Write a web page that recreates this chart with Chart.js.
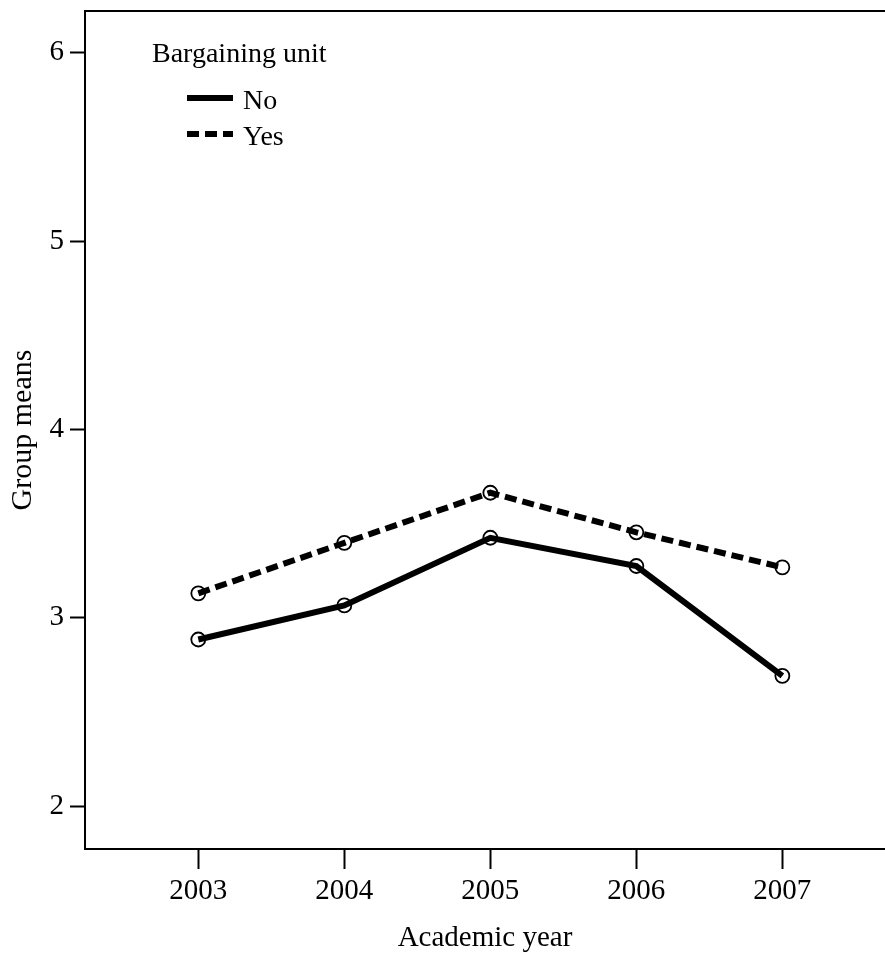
<!DOCTYPE html>
<html>
<head>
<meta charset="utf-8">
<script src="https://cdn.jsdelivr.net/npm/chart.js@4/dist/chart.umd.min.js"></script>
<style>
  html, body { margin: 0; padding: 0; background: #fff; overflow: hidden; }
</style>
</head>
<body>
<canvas id="meansChart" width="885" height="956"></canvas>
<script>
// data
const years = [2003, 2004, 2005, 2006, 2007];
const meansNo  = [2.885, 3.066, 3.425, 3.275, 2.692];
const meansYes = [3.130, 3.398, 3.664, 3.454, 3.268];
const yTicks = [2, 3, 4, 5, 6];
const seriesLabels = ['No', 'Yes'];

const FONT = "'Liberation Serif', 'Times New Roman', serif";
// plot box is cut off at the right edge in the original
const X_MIN = 2002.224, X_MAX = 2007.703;

const toPoints = (vals) => vals.map((v, i) => ({ x: years[i], y: v }));

// kill the label-overflow padding chart.js adds around the plot
const noPad = (s) => { s.paddingTop = 0; s.paddingBottom = 0; s.paddingLeft = 0; s.paddingRight = 0; };

// legend drawn inside the plot area, top-left, like the original
const innerLegend = {
    id: 'innerLegend',
    afterDraw(chart) {
        const { ctx, chartArea } = chart;
        const x0 = chartArea.left;
        const y0 = chartArea.top;
        ctx.save();
        ctx.fillStyle = '#000';
        ctx.font = `28px ${FONT}`;
        ctx.textBaseline = 'alphabetic';
        ctx.fillText('Bargaining unit', x0 + 67, y0 + 51);

        chart.data.datasets.forEach((ds, i) => {
            const ly = y0 + 87 + i * 36;
            ctx.beginPath();
            ctx.lineWidth = 6;
            ctx.strokeStyle = '#000';
            ctx.setLineDash(ds.borderDash || []);
            ctx.moveTo(x0 + 102, ly);
            ctx.lineTo(x0 + 148, ly);
            ctx.stroke();
            ctx.setLineDash([]);
            ctx.fillText(ds.label, x0 + 158, ly + 11);
        });
        ctx.restore();
    }
};

new Chart(document.getElementById('meansChart'), {
    type: 'line',
    data: {
        datasets: [
            {
                label: seriesLabels[0],
                data: toPoints(meansNo),
                borderColor: '#000',
                borderWidth: 6,
                pointRadius: 7,
                pointBorderWidth: 1.8,
                pointBorderColor: '#000',
                pointBackgroundColor: 'rgba(0,0,0,0)',
                tension: 0
            },
            {
                label: seriesLabels[1],
                data: toPoints(meansYes),
                borderColor: '#000',
                borderWidth: 6,
                borderDash: [12, 6],
                pointRadius: 7,
                pointBorderWidth: 1.8,
                pointBorderColor: '#000',
                pointBackgroundColor: 'rgba(0,0,0,0)',
                tension: 0
            }
        ]
    },
    options: {
        responsive: false,
        animation: false,
        layout: { autoPadding: false, padding: 0 },
        plugins: {
            legend: { display: false },
            tooltip: { enabled: false }
        },
        scales: {
            x: {
                type: 'linear',
                position: 'bottom',
                min: X_MIN,
                max: X_MAX,
                afterBuildTicks: (s) => { s.ticks = years.map(v => ({ value: v })); },
                afterFit: (s) => { s.height = 107; noPad(s); },
                grid: { drawOnChartArea: false, drawTicks: true, tickLength: 20, tickWidth: 2, tickColor: '#000' },
                border: { display: true, color: '#000', width: 2 },
                ticks: {
                    color: '#000',
                    font: { family: FONT, size: 29 },
                    padding: 5,
                    maxRotation: 0,
                    callback: (v) => String(v)
                },
                title: {
                    display: true,
                    text: 'Academic year',
                    color: '#000',
                    font: { family: FONT, size: 29 },
                    padding: { top: 0, bottom: 0 }
                }
            },
            xTop: {
                type: 'linear',
                position: 'top',
                min: X_MIN,
                max: X_MAX,
                afterFit: (s) => { s.height = 11; noPad(s); },
                grid: { display: false },
                border: { display: true, color: '#000', width: 2 },
                ticks: { display: false }
            },
            y: {
                type: 'linear',
                position: 'left',
                min: 1.773,
                max: 6.221,
                afterBuildTicks: (s) => { s.ticks = yTicks.map(v => ({ value: v })); },
                afterFit: (s) => { s.width = 85; noPad(s); },
                grid: { drawOnChartArea: false, drawTicks: true, tickLength: 15, tickWidth: 2, tickColor: '#000' },
                border: { display: true, color: '#000', width: 2 },
                ticks: {
                    color: '#000',
                    font: { family: FONT, size: 29 },
                    padding: 6,
                    callback: (v) => String(v)
                },
                title: {
                    display: true,
                    text: 'Group means',
                    color: '#000',
                    font: { family: FONT, size: 30 },
                    padding: { top: 5, bottom: 0 }
                }
            }
        }
    },
    plugins: [innerLegend]
});
</script>
</body>
</html>
